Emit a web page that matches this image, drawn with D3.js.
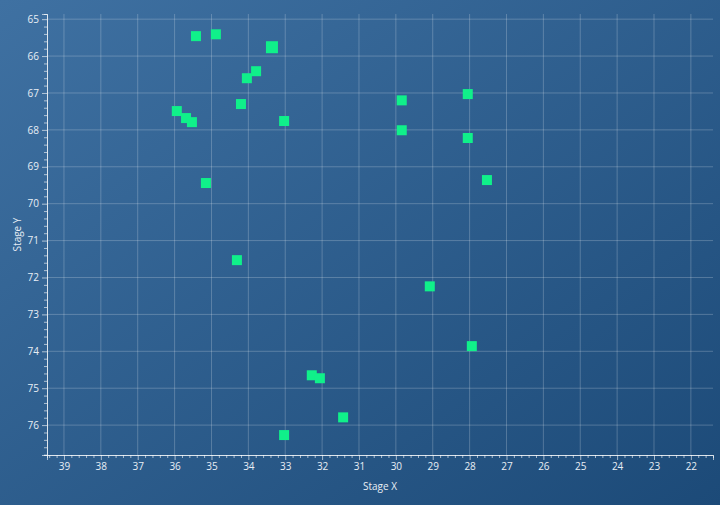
<!DOCTYPE html>
<html><head><meta charset="utf-8">
<script src="https://cdn.jsdelivr.net/npm/d3@7"></script>
<style>body{margin:0;background:#2a5a8a}svg{display:block}</style></head>
<body><svg id="c" width="720" height="505"></svg>
<script>
const xs=[35.42,34.88,33.36,33.79,34.04,34.2,35.94,35.69,35.53,33.03,29.84,29.84,28.05,28.05,27.53,35.15,34.31,29.08,27.94,32.28,32.06,31.43,33.03];
const ys=[65.46,65.41,65.76,66.41,66.6,67.3,67.49,67.68,67.79,67.76,67.2,68.01,67.03,68.22,69.36,69.44,71.53,72.24,73.86,74.65,74.73,75.79,76.27];
const sizes=[10,10,12,10,10,10,10,10,10,10,10,10,10,10,10,10,10,10,10,10,10,10,10];
const xTicks=d3.range(39,21,-1);
const yTicks=d3.range(65,77,1);
const svg=d3.select("#c");
const defs=svg.append("defs");
const g=defs.append("linearGradient").attr("id","bg").attr("x1","0").attr("y1","0").attr("x2","1").attr("y2","1");
g.append("stop").attr("offset","0").attr("stop-color","#3f71a2");
g.append("stop").attr("offset","1").attr("stop-color","#1c4a78");
svg.append("rect").attr("width",720).attr("height",505).attr("fill","url(#bg)");
const L=47,R=713,T=14,B=455;
const x=d3.scaleLinear().domain([39.46,21.4]).range([L,R]);
const y=d3.scaleLinear().domain([64.86,76.81]).range([T,B]);
const grid="rgba(255,255,255,0.22)";
svg.append("g").selectAll("line").data(xTicks).join("line").attr("x1",d=>x(d)).attr("x2",d=>x(d)).attr("y1",T).attr("y2",B).attr("stroke",grid);
svg.append("g").selectAll("line").data(yTicks).join("line").attr("y1",d=>y(d)).attr("y2",d=>y(d)).attr("x1",L).attr("x2",R).attr("stroke",grid);
const ax=svg.append("g").attr("transform",`translate(0,${B})`).call(d3.axisBottom(x).tickValues(xTicks).tickFormat(d3.format("d")).tickSize(5));
const axm=svg.append("g").attr("transform",`translate(0,${B})`).call(d3.axisBottom(x).tickValues(d3.range(39.4,21.4,-0.2).filter(v=>Math.abs(v-Math.round(v))>0.01)).tickFormat("").tickSize(3));
const ay=svg.append("g").attr("transform",`translate(${L},0)`).call(d3.axisLeft(y).tickValues(yTicks).tickFormat(d3.format("d")).tickSize(5));
const aym=svg.append("g").attr("transform",`translate(${L},0)`).call(d3.axisLeft(y).tickValues(d3.range(65,76.81,0.2).filter(v=>Math.abs(v-Math.round(v))>0.01)).tickFormat("").tickSize(3));
[ax,axm,ay,aym].forEach(a=>{a.selectAll("path,line").attr("stroke","rgba(255,255,255,0.6)");a.selectAll("text").attr("fill","#e8eef5").attr("font-family","Open Sans, sans-serif").attr("font-size",10);});
svg.append("text").attr("x",(L+R)/2).attr("y",490).attr("text-anchor","middle").attr("fill","#e8eef5").attr("font-family","Open Sans, sans-serif").attr("font-size",10).text("Stage X");
svg.append("text").attr("transform",`translate(21,${(T+B)/2}) rotate(-90)`).attr("text-anchor","middle").attr("fill","#e8eef5").attr("font-family","Open Sans, sans-serif").attr("font-size",10).text("Stage Y");
svg.append("g").selectAll("rect").data(xs.map((v,i)=>[v,ys[i],sizes[i]])).join("rect")
 .attr("x",d=>x(d[0])-d[2]/2).attr("y",d=>y(d[1])-d[2]/2).attr("width",d=>d[2]).attr("height",d=>d[2]).attr("fill","#10f08a");
</script></body></html>
